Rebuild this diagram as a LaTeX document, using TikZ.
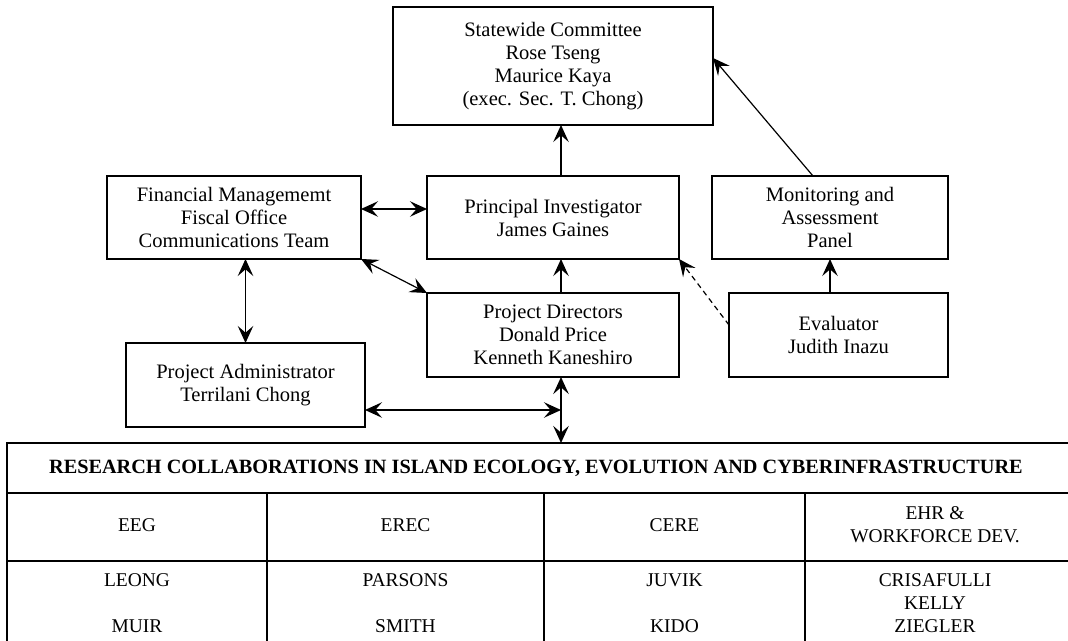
\documentclass[tikz,border=0pt]{standalone}
\usepackage{fontspec}
\setmainfont{Liberation Serif}
\usetikzlibrary{arrows.meta,calc}

\tikzset{
	>={Stealth[length=12.75pt,width=11.6pt,inset=5pt]},
	box/.style={draw, line width=0.9pt, outer sep=0pt, align=center, font=\fontsize{15.4}{17.25}\selectfont},
	link/.style={line width=0.9pt},
	mainlink/.style={line width=2pt},
	rule/.style={line width=0.9pt},
	celltext/.style={align=center, font=\fontsize{14.6}{17.25}\selectfont},
	titletext/.style={align=center, font=\fontsize{15.2}{17.25}\selectfont\bfseries}
}

\begin{document}
\begin{tikzpicture}[x=0.75pt,y=0.75pt,yscale=-1,xscale=1]
	\useasboundingbox (0,0) rectangle (1068,641);

	%Shape: Rectangle [id:statewide]
	\node[box, minimum width=240pt, minimum height=88.5pt] (sc) at (553,66) {Statewide Committee\\Rose Tseng\\Maurice Kaya\\(exec. Sec. T. Chong)};
	%Shape: Rectangle [id:financial]
	\node[box, minimum width=190.5pt, minimum height=62.25pt] (fm) at (234,217.5) {Financial Managememt\\Fiscal Office\\Communications Team};
	%Shape: Rectangle [id:principal]
	\node[box, minimum width=189pt, minimum height=62.25pt] (pi) at (553,217.5) {Principal Investigator\\James Gaines};
	%Shape: Rectangle [id:monitoring]
	\node[box, minimum width=177pt, minimum height=62.25pt] (map) at (830,217.5) {Monitoring and\\Assessment\\Panel};
	%Shape: Rectangle [id:directors]
	\node[box, minimum width=189pt, minimum height=63pt] (pd) at (553,335) {Project Directors\\Donald Price\\Kenneth Kaneshiro};
	%Shape: Rectangle [id:evaluator]
	\node[box, minimum width=164.25pt, minimum height=63pt] (ev) at (838.5,335) {Evaluator\\Judith Inazu};
	%Shape: Rectangle [id:administrator]
	\node[box, minimum width=179.25pt, minimum height=63pt] (pa) at (245.5,385) {Project Administrator\\Terrilani Chong};

	\coordinate (spine) at (561,410);
	\coordinate (tabletop) at (561,443);

	%Straight Lines [id:arrows]
	\draw[link, ->] (pi.north -| spine) -- (sc.south -| spine);
	\draw[link, ->] (pd.north -| spine) -- (pi.south -| spine);
	\draw[link, ->] ($(map.north)+(-17,0)$) -- ($(sc.east)+(0,-8)$);
	\draw[link, ->] (ev.north -| map) -- (map.south);
	\draw[link, ->, dash pattern=on 4pt off 3pt] ($(ev.west)+(0,-10)$) -- (pi.south east);
	\draw[link, <->] ($(fm.east)+(0,-8.5)$) -- ($(pi.west)+(0,-8.5)$);
	\draw[link, <->] (fm.south east) -- (pd.north west);
	\draw[link, <->] (pa.north) -- (pa.north |- fm.south);
	\draw[link, <->] (pa.east |- spine) -- (spine);
	\draw[mainlink, <->] (pd.south -| spine) -- (tabletop);

	%Shape: Table
	\draw[rule] (7,650) |- (1075,443);
	\draw[rule] (7,493) -- (1075,493);
	\draw[rule] (7,561) -- (1075,561);
	\foreach \x in {267,544,805}
		\draw[rule] (\x,493) -- (\x,650);

	% Text Node
	\node[titletext] (title) at (536,468) {RESEARCH COLLABORATIONS IN ISLAND ECOLOGY, EVOLUTION AND CYBERINFRASTRUCTURE};
	\foreach \cx/\grp/\who [count=\i] in {137/{EEG}/{LEONG\\[17.25pt]MUIR}, 405.5/{EREC}/{PARSONS\\[17.25pt]SMITH}, 674.5/{CERE}/{JUVIK\\[17.25pt]KIDO}, 935/{EHR \&\\WORKFORCE DEV.}/{CRISAFULLI\\KELLY\\ZIEGLER}}{
		\node[celltext] (grp\i) at (\cx,525) {\grp};
		\node[celltext] (who\i) at (\cx,603) {\who};
	}
\end{tikzpicture}
\end{document}
